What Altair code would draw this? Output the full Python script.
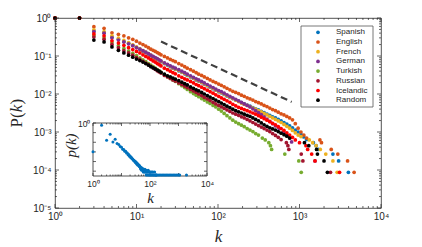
import json
import altair as alt
import pandas as pd

# ---------------- data ----------------
SERIES = ["Spanish", "English", "French", "German", "Turkish", "Russian", "Icelandic", "Random"]
COLORS = ["#0072BD", "#D95319", "#EDB120", "#7E2F8E", "#77AC30", "#A2142F", "#FF0000", "#000000"]

# degrees k at which the dense part of every curve is read
K_GRID = [1, 2, 3, 4, 5, 6, 7, 8, 9, 10, 11, 12, 13, 14, 15, 16, 17, 18, 19, 20,
          22, 24, 26, 28, 30, 33, 36, 39, 42, 46, 50, 54, 58, 63, 68, 74, 80, 87, 94, 102,
          110, 119, 129, 140, 152, 165, 179, 194, 210, 228, 247, 268, 290, 314, 340, 368,
          399, 432, 468, 507, 549, 595, 645, 699, 757, 820, 888, 962, 1042, 1129, 1223]

# log10 P(k) along K_GRID
SPANISH_LOGP = [0, 0, -0.34, -0.38, -0.50, -0.56, -0.62, -0.67, -0.72, -0.77, -0.82, -0.87, -0.91, -0.95, -0.99, -1.03, -1.06, -1.09, -1.12, -1.15,
                -1.20, -1.24, -1.28, -1.32, -1.35, -1.39, -1.43, -1.47, -1.51, -1.55, -1.59, -1.63, -1.66, -1.70, -1.74, -1.78, -1.82, -1.86, -1.90, -1.94,
                -1.97, -2.01, -2.05, -2.09, -2.12, -2.16, -2.19, -2.23, -2.26, -2.29, -2.32, -2.36, -2.39, -2.42, -2.46, -2.49, -2.53, -2.56, -2.60, -2.63,
                -2.67, -2.71, -2.75, -2.79, -2.84, -2.89, -2.95, -3.00, -3.06, -3.13, -3.20]
ENGLISH_LOGP = [0, 0, -0.23, -0.27, -0.39, -0.43, -0.47, -0.52, -0.56, -0.61, -0.66, -0.70, -0.74, -0.78, -0.82, -0.85, -0.88, -0.91, -0.94, -0.97,
                -1.01, -1.05, -1.09, -1.12, -1.15, -1.20, -1.24, -1.28, -1.32, -1.36, -1.40, -1.44, -1.48, -1.51, -1.55, -1.59, -1.63, -1.67, -1.70, -1.74,
                -1.77, -1.81, -1.85, -1.89, -1.93, -1.96, -1.99, -2.03, -2.06, -2.10, -2.13, -2.16, -2.20, -2.23, -2.26, -2.30, -2.33, -2.37, -2.41, -2.44,
                -2.48, -2.52, -2.55, -2.59, -2.63, -2.68, -2.78, -2.90, -3.00, -3.08, -3.16]
FRENCH_LOGP = [0, 0, -0.31, -0.36, -0.47, -0.53, -0.59, -0.65, -0.71, -0.76, -0.81, -0.86, -0.90, -0.94, -0.98, -1.02, -1.05, -1.08, -1.11, -1.14,
               -1.19, -1.23, -1.27, -1.31, -1.34, -1.38, -1.42, -1.46, -1.50, -1.54, -1.58, -1.62, -1.65, -1.69, -1.73, -1.77, -1.81, -1.85, -1.89, -1.93,
               -1.96, -2.00, -2.04, -2.08, -2.12, -2.16, -2.20, -2.24, -2.27, -2.30, -2.33, -2.37, -2.40, -2.44, -2.47, -2.51, -2.55, -2.59, -2.63, -2.67,
               -2.71, -2.75, -2.80, -2.85, -2.90, -2.96, -3.02, -3.08, -3.12]
GERMAN_LOGP = [0, 0, -0.36, -0.40, -0.52, -0.58, -0.63, -0.68, -0.73, -0.78, -0.82, -0.86, -0.90, -0.94, -0.98, -1.01, -1.04, -1.07, -1.10, -1.13,
               -1.18, -1.22, -1.26, -1.29, -1.32, -1.36, -1.40, -1.44, -1.48, -1.52, -1.56, -1.60, -1.63, -1.67, -1.71, -1.75, -1.79, -1.83, -1.87, -1.91,
               -1.94, -1.98, -2.02, -2.06, -2.10, -2.14, -2.18, -2.22, -2.26, -2.30, -2.34, -2.39, -2.44, -2.49, -2.54, -2.60, -2.66, -2.72, -2.78, -2.84]
TURKISH_LOGP = [0, 0, -0.46, -0.52, -0.65, -0.73, -0.80, -0.87, -0.93, -0.99, -1.05, -1.10, -1.15, -1.20, -1.24, -1.28, -1.32, -1.36, -1.40, -1.43,
                -1.49, -1.54, -1.59, -1.63, -1.67, -1.73, -1.78, -1.83, -1.88, -1.94, -1.99, -2.03, -2.07, -2.12, -2.16, -2.21, -2.25, -2.30, -2.34, -2.40,
                -2.45, -2.51, -2.57, -2.63, -2.69, -2.74, -2.78, -2.82, -2.86, -2.91, -2.95, -2.99, -3.04, -3.08]
RUSSIAN_LOGP = [0, 0, -0.50, -0.56, -0.70, -0.78, -0.86, -0.92, -0.98, -1.04, -1.09, -1.14, -1.19, -1.23, -1.27, -1.31, -1.35, -1.39, -1.42, -1.45,
                -1.51, -1.55, -1.59, -1.63, -1.66, -1.71, -1.75, -1.79, -1.83, -1.88, -1.92, -1.96, -2.00, -2.04, -2.09, -2.13, -2.17, -2.22, -2.26, -2.30,
                -2.34, -2.38, -2.42, -2.46, -2.50, -2.53, -2.56, -2.60, -2.63, -2.67, -2.71, -2.75, -2.79, -2.83, -2.87, -2.91, -2.95, -2.99, -3.04, -3.09,
                -3.14, -3.20]
ICELANDIC_LOGP = [0, 0, -0.42, -0.47, -0.60, -0.66, -0.72, -0.78, -0.83, -0.88, -0.92, -0.97, -1.01, -1.05, -1.09, -1.13, -1.16, -1.20, -1.23, -1.26,
                  -1.32, -1.36, -1.40, -1.44, -1.47, -1.52, -1.56, -1.60, -1.63, -1.67, -1.71, -1.75, -1.78, -1.82, -1.86, -1.90, -1.94, -1.98, -2.02, -2.06,
                  -2.10, -2.14, -2.18, -2.22, -2.27, -2.31, -2.35, -2.38, -2.41, -2.44, -2.47, -2.50, -2.53, -2.57, -2.61, -2.65, -2.69, -2.73, -2.77, -2.81,
                  -2.86, -2.91, -2.96, -3.02, -3.08, -3.14, -3.21]
RANDOM_LOGP = [0, 0, -0.58, -0.63, -0.76, -0.85, -0.92, -0.98, -1.03, -1.08, -1.12, -1.16, -1.20, -1.24, -1.28, -1.31, -1.34, -1.37, -1.40, -1.43,
               -1.48, -1.52, -1.55, -1.58, -1.61, -1.65, -1.69, -1.73, -1.76, -1.81, -1.85, -1.89, -1.92, -1.96, -2.00, -2.04, -2.08, -2.12, -2.16, -2.20,
               -2.24, -2.28, -2.32, -2.36, -2.40, -2.44, -2.47, -2.50, -2.53, -2.56, -2.59, -2.63, -2.67, -2.71, -2.76, -2.81, -2.85, -2.89, -2.92, -2.95,
               -2.99, -3.03, -3.07, -3.11, -3.16]

# sparse tails (k, log10 P)
SPANISH_TAIL_K = [1480, 1600, 1700, 2570, 3020, 3980]
SPANISH_TAIL_LOGP = [-3.28, -3.36, -3.46, -3.58, -3.76, -4.06]
ENGLISH_TAIL_K = [1780, 1860, 2450, 2950, 3890, 4680]
ENGLISH_TAIL_LOGP = [-3.21, -3.28, -3.46, -3.58, -3.76, -4.06]
FRENCH_TAIL_K = [1320, 1450, 1600, 1800, 2100, 2570, 2900]
FRENCH_TAIL_LOGP = [-3.21, -3.28, -3.36, -3.46, -3.58, -3.76, -4.06]
GERMAN_TAIL_K = [560, 640, 700, 760, 800, 1550]
GERMAN_TAIL_LOGP = [-2.90, -3.00, -3.08, -3.16, -3.26, -3.76]
TURKISH_TAIL_K = [350, 380, 420, 440, 455, 660, 980, 1050]
TURKISH_TAIL_LOGP = [-3.16, -3.21, -3.28, -3.36, -3.46, -3.58, -3.76, -4.06]
RUSSIAN_TAIL_K = [690, 720, 740, 1050, 1100, 2400]
RUSSIAN_TAIL_LOGP = [-3.28, -3.36, -3.46, -3.58, -3.76, -4.06]
ICELANDIC_TAIL_K = [1000, 1200, 1260, 1410, 1550, 3100]
ICELANDIC_TAIL_LOGP = [-3.28, -3.36, -3.46, -3.58, -3.76, -4.06]
RANDOM_TAIL_K = [1150, 1300, 1620, 1660, 2000, 2200]
RANDOM_TAIL_LOGP = [-3.28, -3.36, -3.46, -3.58, -3.76, -4.06]

# reference slope line
DASH_K = [20, 800]
DASH_P = [0.24, 0.0062]

# inset: p(k) of one language
INSET_K = [1, 2, 3, 4, 5, 6, 7, 8, 9, 10, 11, 12, 13, 14, 15, 16, 17, 18, 19, 20,
           21, 22, 23, 24, 25, 26, 27, 28, 29, 30, 31, 32, 33, 34, 35, 36, 37, 38, 40, 41, 42, 44, 45,
           46, 47, 48, 49, 50, 51, 52, 54, 55, 56, 58, 60, 61, 63, 65, 66, 68, 70, 72, 74, 76, 78, 81,
           84, 87, 90, 93, 96, 100, 104, 108, 112, 117, 122, 127, 133, 139, 145, 152, 159, 166,
           170, 190, 213, 239, 268, 300, 336, 376, 421, 472, 528, 592, 663, 742, 831, 931, 1043, 1100, 1900]
INSET_LOGP = [-2.99, -0.24, -1.78, -1.17, -1.96, -1.68, -2.13, -2.22, -2.43, -2.52, -2.72, -2.74, -2.94, -2.94, -3.12, -3.12, -3.30, -3.28, -3.45, -3.42,
              -3.58, -3.56, -3.68, -3.70, -3.76, -3.84, -3.88, -3.92, -4.00, -3.96, -4.10, -4.04, -4.18, -4.12, -4.28, -4.20, -4.35, -4.30, -4.42, -4.36, -4.52, -4.46, -4.56,
              -4.61, -4.69, -4.79, -4.61, -4.69, -4.91, -4.79, -4.69, -4.91, -4.79, -5.09, -4.79, -4.91, -5.09, -4.91, -4.79, -5.09, -4.91, -5.09, -5.39, -4.91, -5.09, -5.39,
              -5.09, -4.91, -5.39, -5.09, -5.39, -5.09, -5.39, -5.09, -5.39, -5.09, -5.39, -5.09, -5.39, -5.39, -5.09, -5.39, -5.39, -5.39,
              -5.39, -5.39, -5.39, -5.39, -5.39, -5.39, -5.39, -5.39, -5.39, -5.39, -5.39, -5.39, -5.39, -5.39, -5.39, -5.39, -5.39, -5.39, -5.39]

X_TICKS = [1, 10, 100, 1000, 10000]
X_TICK_LABELS = ["10\u2070", "10\u00b9", "10\u00b2", "10\u00b3", "10\u2074"]
Y_TICKS = [1, 0.1, 0.01, 0.001, 0.0001, 0.00001]
Y_TICK_LABELS = ["10\u2070", "10\u207b\u00b9", "10\u207b\u00b2", "10\u207b\u00b3", "10\u207b\u2074", "10\u207b\u2075"]
INSET_X_TICKS = [1, 100, 10000]
INSET_Y_TICKS = [1]
Y_TITLE_PARTS = ["P(", "k", ")"]

# ---------------- build tables ----------------
dense = [SPANISH_LOGP, ENGLISH_LOGP, FRENCH_LOGP, GERMAN_LOGP, TURKISH_LOGP, RUSSIAN_LOGP, ICELANDIC_LOGP, RANDOM_LOGP]
tails_k = [SPANISH_TAIL_K, ENGLISH_TAIL_K, FRENCH_TAIL_K, GERMAN_TAIL_K, TURKISH_TAIL_K, RUSSIAN_TAIL_K, ICELANDIC_TAIL_K, RANDOM_TAIL_K]
tails_p = [SPANISH_TAIL_LOGP, ENGLISH_TAIL_LOGP, FRENCH_TAIL_LOGP, GERMAN_TAIL_LOGP, TURKISH_TAIL_LOGP, RUSSIAN_TAIL_LOGP, ICELANDIC_TAIL_LOGP, RANDOM_TAIL_LOGP]
rows = []
for i, name in enumerate(SERIES):
    for k, lp in list(zip(K_GRID, dense[i])) + list(zip(tails_k[i], tails_p[i])):
        rows.append({"series": name, "k": k, "P": 10 ** lp, "ord": i})
df = pd.DataFrame(rows)
dash_df = pd.DataFrame({"k": DASH_K, "P": DASH_P})
inset_df = pd.DataFrame({"k": INSET_K, "p": [10 ** v for v in INSET_LOGP]})
legend_df = pd.DataFrame({"series": SERIES})

decades_x = [1, 10, 100, 1000]
x_major = pd.DataFrame({"t": X_TICKS})
x_minor = pd.DataFrame({"t": [m * d for d in decades_x for m in range(2, 10)]})
y_major = pd.DataFrame({"t": Y_TICKS})
y_minor = pd.DataFrame({"t": [m * d for d in [1e-5, 1e-4, 1e-3, 1e-2, 1e-1] for m in range(2, 10)]})
in_y_major = pd.DataFrame({"t": [1, 1e-1, 1e-2, 1e-3, 1e-4, 1e-5]})

W, H = 326, 190
INK = "#262626"
IN_L, IN_R, IN_T, IN_B = 38, 152, 105, 158
LEG_L, LEG_R, LEG_T, LEG_B = 246, 318, 8, 89
SERIF = "Liberation Serif"

XM = alt.Scale(type="log", domain=[1, 10000], nice=False)
YM = alt.Scale(type="log", domain=[1e-5, 1], nice=False)
XI = alt.Scale(type="log", domain=[1, 10000], range=[IN_L, IN_R], nice=False)
YI = alt.Scale(type="log", domain=[10 ** -5.5, 1], range=[IN_B, IN_T], nice=False)
YL = alt.Scale(type="point", domain=SERIES, range=[14.3, 82.2], padding=0)
CS = alt.Scale(domain=SERIES, range=COLORS)


def lab_expr(labels, neg=False):
    s = "-" if neg else ""
    return json.dumps(labels, ensure_ascii=False) + "[" + s + "round(log(datum.value)/LN10)]"


main = alt.Chart(df).mark_circle(size=14, opacity=1).encode(
    x=alt.X("k:Q", scale=XM, axis=alt.Axis(
        orient="bottom", values=X_TICKS, labelExpr=lab_expr(X_TICK_LABELS), domain=False, ticks=False, grid=False,
        labelFont="Liberation Sans", labelFontSize=10, labelColor=INK, labelPadding=3, labelFlush=False, labelOverlap=False,
        title="k", titleFont=SERIF, titleFontSize=17, titleFontStyle="italic", titleFontWeight="normal",
        titleColor=INK, titleX=163, titleY=28, titleBaseline="middle", titleAlign="center")),
    y=alt.Y("P:Q", scale=YM, axis=alt.Axis(
        orient="left", values=Y_TICKS, labelExpr=lab_expr(Y_TICK_LABELS, True), domain=False, ticks=False, grid=False,
        labelFont="Liberation Sans", labelFontSize=10, labelColor=INK, labelPadding=4, labelFlush=False, labelOverlap=False,
        title=None)),
    color=alt.Color("series:N", scale=CS, legend=None),
    order="ord:Q",
)

# y title "P(k)" with an italic k, written upwards
ytitle = [
    alt.Chart(pd.DataFrame({"s": [Y_TITLE_PARTS[0]]})).mark_text(
        angle=270, align="left", baseline="middle", font=SERIF, fontSize=17, color=INK).encode(
        text="s:N", x=alt.value(-38), y=alt.value(109.5)),
    alt.Chart(pd.DataFrame({"s": [Y_TITLE_PARTS[1]]})).mark_text(
        angle=270, align="left", baseline="middle", font=SERIF, fontSize=17, fontStyle="italic", color=INK).encode(
        text="s:N", x=alt.value(-38), y=alt.value(94.2)),
    alt.Chart(pd.DataFrame({"s": [Y_TITLE_PARTS[2]]})).mark_text(
        angle=270, align="left", baseline="middle", font=SERIF, fontSize=17, color=INK).encode(
        text="s:N", x=alt.value(-38), y=alt.value(86.4)),
]

dash = alt.Chart(dash_df).mark_line(color="#404040", strokeWidth=2.2, strokeDash=[7, 4]).encode(
    x=alt.X("k:Q", scale=XM, axis=None), y=alt.Y("P:Q", scale=YM, axis=None))


def xticks(data, scale, y0, y1):
    return alt.Chart(data).mark_rule(color=INK, strokeWidth=0.7).encode(
        x=alt.X("t:Q", scale=scale, axis=None), y=alt.value(y0), y2=alt.value(y1))


def yticks(data, scale, x0, x1):
    return alt.Chart(data).mark_rule(color=INK, strokeWidth=0.7).encode(
        y=alt.Y("t:Q", scale=scale, axis=None), x=alt.value(x0), x2=alt.value(x1))


main_ticks = [
    xticks(x_major, XM, H, H - 4), xticks(x_minor, XM, H, H - 2),
    xticks(x_major, XM, 0, 4), xticks(x_minor, XM, 0, 2),
    yticks(y_major, YM, 0, 4), yticks(y_minor, YM, 0, 2),
    yticks(y_major, YM, W, W - 4), yticks(y_minor, YM, W, W - 2),
]

# legend drawn as marks
leg_box = alt.Chart(pd.DataFrame({"a": [0]})).mark_rect(fill="white", stroke="#555555", strokeWidth=0.8).encode(
    x=alt.value(LEG_L), x2=alt.value(LEG_R), y=alt.value(LEG_T), y2=alt.value(LEG_B))
leg_sym = alt.Chart(legend_df).mark_circle(size=14, opacity=1).encode(
    x=alt.value(LEG_L + 17), y=alt.Y("series:N", scale=YL, axis=None),
    color=alt.Color("series:N", scale=CS, legend=None))
leg_txt = alt.Chart(legend_df).mark_text(align="left", baseline="middle", font="Liberation Sans", fontSize=8,
                                          color=INK).encode(
    x=alt.value(LEG_L + 35), y=alt.Y("series:N", scale=YL, axis=None), text="series:N")

box_df = pd.DataFrame({"x": [1], "x2": [10000], "y": [10 ** -5.5], "y2": [1]})
inset_box = alt.Chart(box_df).mark_rect(fill="white", stroke=INK, strokeWidth=0.8).encode(
    x=alt.X("x:Q", scale=XI, axis=alt.Axis(
        orient="bottom", offset=IN_B - H, values=INSET_X_TICKS, labelExpr=lab_expr(X_TICK_LABELS),
        domain=False, ticks=False, grid=False, labelFont="Liberation Sans", labelFontSize=8.5, labelColor=INK,
        labelPadding=3, labelFlush=False, labelOverlap=False,
        title="k", titleFont=SERIF, titleFontSize=15, titleFontStyle="italic", titleFontWeight="normal",
        titleColor=INK, titleX=95, titleY=21, titleBaseline="middle", titleAlign="center")),
    x2="x2:Q",
    y=alt.Y("y:Q", scale=YI, axis=alt.Axis(
        orient="left", offset=-IN_L, values=INSET_Y_TICKS, labelExpr=lab_expr(Y_TICK_LABELS, True),
        domain=False, ticks=False, grid=False, labelFont="Liberation Sans", labelFontSize=8.5, labelColor=INK,
        labelPadding=3, labelFlush=False, labelOverlap=False,
        title="p(k)", titleFont=SERIF, titleFontSize=15, titleFontStyle="italic", titleFontWeight="normal",
        titleColor=INK, titleX=-23, titleY=127, titleBaseline="middle", titleAlign="center", titleAngle=270)),
    y2="y2:Q",
)

inset_ticks = [
    xticks(x_major, XI, IN_B, IN_B - 3), xticks(x_minor, XI, IN_B, IN_B - 1.5),
    xticks(x_major, XI, IN_T, IN_T + 3), xticks(x_minor, XI, IN_T, IN_T + 1.5),
    yticks(in_y_major, YI, IN_L, IN_L + 3), yticks(in_y_major, YI, IN_R, IN_R - 3),
]

inset_pts = alt.Chart(inset_df).mark_circle(size=9, opacity=1, color="#0072BD").encode(
    x=alt.X("k:Q", scale=XI, axis=None), y=alt.Y("p:Q", scale=YI, axis=None))

chart = alt.layer(main, dash, *main_ticks, inset_box, *inset_ticks, inset_pts, leg_box, leg_sym, leg_txt,
                  *ytitle).resolve_scale(
    x="independent", y="independent", color="independent"
).properties(
    width=W, height=H,
    autosize=alt.AutoSizeParams(type="none"),
    padding={"left": 47, "top": 10, "right": 33, "bottom": 37},
    background="white",
).configure_view(stroke=INK, strokeWidth=0.8)

chart.save("out.html", embed_options={"renderer": "svg", "actions": False})
